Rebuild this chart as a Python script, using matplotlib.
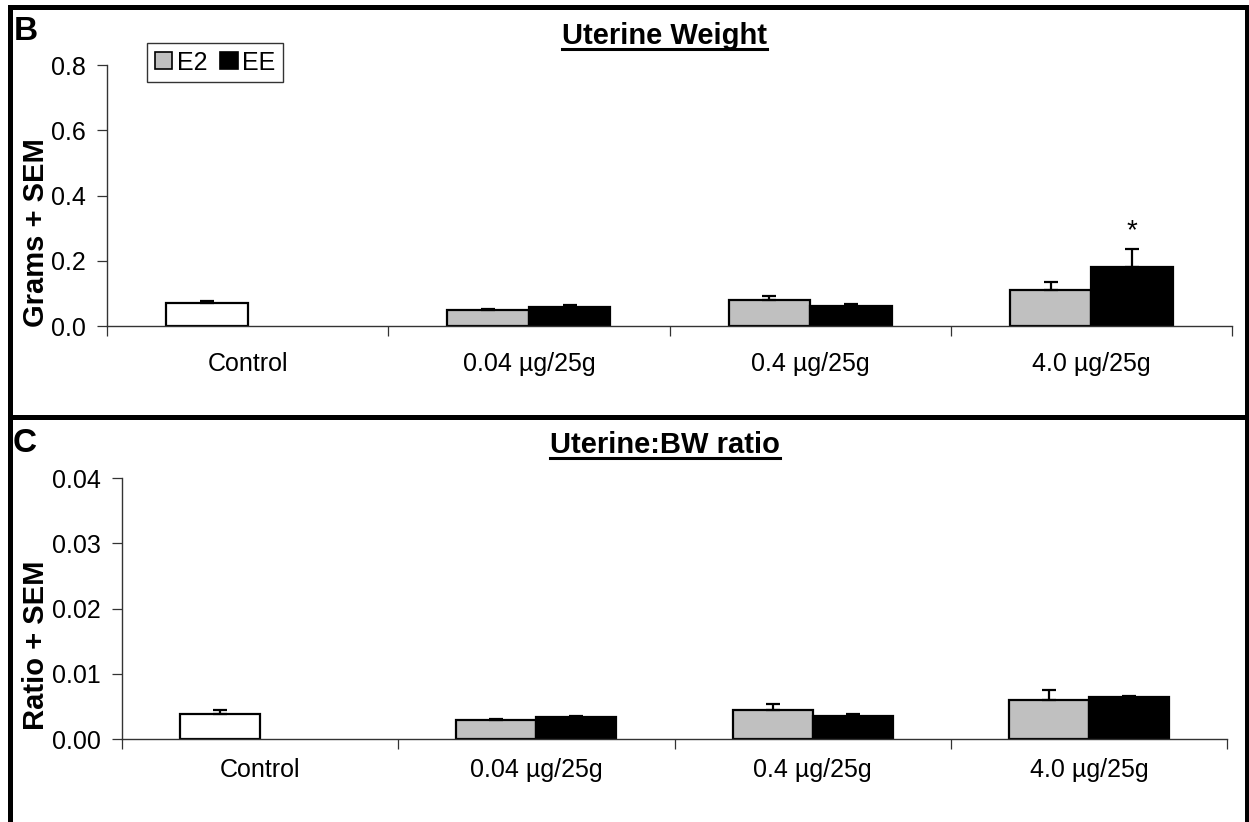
import matplotlib
matplotlib.use("Agg")
import matplotlib.pyplot as plt
from matplotlib.lines import Line2D
from matplotlib.patches import Rectangle, Patch
import numpy as np

plt.rcParams['font.family'] = ['Liberation Sans', 'DejaVu Sans']

# dose groups (Control has a single vehicle bar)
categories = ['Control', '0.04 µg/25g', '0.4 µg/25g', '4.0 µg/25g']

# uterine weight, grams
weight_control = 0.070
weight_control_sem = 0.008
weight_e2 = [0.049, 0.079, 0.110]
weight_e2_sem = [0.004, 0.014, 0.026]
weight_ee = [0.058, 0.062, 0.182]
weight_ee_sem = [0.005, 0.005, 0.053]

# uterine : body weight ratio
ratio_control = 0.0039
ratio_control_sem = 0.0005
ratio_e2 = [0.0029, 0.0044, 0.0060]
ratio_e2_sem = [0.0002, 0.0010, 0.0015]
ratio_ee = [0.0034, 0.0036, 0.0064]
ratio_ee_sem = [0.0002, 0.0002, 0.0002]

weight_ticks = [0.0, 0.2, 0.4, 0.6, 0.8]
weight_ticklabels = ['0.0', '0.2', '0.4', '0.6', '0.8']
ratio_ticks = [0.00, 0.01, 0.02, 0.03, 0.04]
ratio_ticklabels = ['0.00', '0.01', '0.02', '0.03', '0.04']

W, H = 1249, 822
BAR_W = 0.29
GREY = '#C0C0C0'
LABEL_SIZE = 18


def fig_box(left, top, right, bottom):
    """Pixel box -> figure fraction [x, y, w, h]."""
    return [left / W, 1 - bottom / H, (right - left) / W, (bottom - top) / H]


def draw_panel(ax, control, control_sem, e2, e2_sem, ee, ee_sem, ticks, ticklabels, xpad):
    x = np.arange(1, len(categories))
    err_kw = dict(ecolor='black', elinewidth=1.6, capsize=5, capthick=1.6)

    ax.bar(0 - BAR_W / 2, control, BAR_W, color='white', edgecolor='black', linewidth=1.6,
           yerr=[[0], [control_sem]], error_kw=err_kw, zorder=3)
    ax.bar(x - BAR_W / 2, e2, BAR_W, color=GREY, edgecolor='black', linewidth=1.6,
           yerr=[np.zeros(len(e2)), e2_sem], error_kw=err_kw, zorder=3)
    ax.bar(x + BAR_W / 2, ee, BAR_W, color='black', edgecolor='black', linewidth=1.6,
           yerr=[np.zeros(len(ee)), ee_sem], error_kw=err_kw, zorder=3)

    ax.set_xlim(-0.5, len(categories) - 0.5)
    ax.set_ylim(ticks[0], ticks[-1])
    ax.set_yticks(ticks)
    ax.set_yticklabels(ticklabels)

    # tick marks sit between groups, labels sit under group centres
    ax.set_xticks(np.arange(len(categories) + 1) - 0.5)
    ax.set_xticklabels([])
    ax.set_xticks(np.arange(len(categories)), minor=True)
    ax.set_xticklabels(categories, minor=True)
    ax.tick_params(axis='x', which='minor', length=0, pad=xpad, labelsize=LABEL_SIZE)
    ax.tick_params(axis='x', which='major', length=7, width=0.9, direction='out', color='#333333')
    ax.tick_params(axis='y', length=7, width=0.9, direction='out', color='#333333',
                   labelsize=LABEL_SIZE, pad=8)

    for side in ('top', 'right'):
        ax.spines[side].set_visible(False)
    for side in ('left', 'bottom'):
        ax.spines[side].set_color('#333333')
        ax.spines[side].set_linewidth(1.0)
        ax.spines[side].set_zorder(4)
    ax.patch.set_alpha(0)
    return ax


def underlined_title(fig, text, x, y):
    t = fig.text(x, y, text, ha='center', va='baseline', fontsize=21, fontweight='bold')
    fig.canvas.draw()
    bb = t.get_window_extent().transformed(fig.transFigure.inverted())
    uy = y - 5 / H
    fig.add_artist(Line2D([bb.x0, bb.x1], [uy, uy], color='black', lw=2.2,
                          transform=fig.transFigure))
    return t


fig = plt.figure(figsize=(W / 100, H / 100), dpi=100)

# framed panels
for top, bottom in ((7.5, 417), (417, 860)):
    fig.add_artist(Rectangle((9.5 / W, 1 - bottom / H), (1247 - 9.5) / W, (bottom - top) / H,
                             transform=fig.transFigure, fill=False, edgecolor='black', lw=3.6))

ax_b = fig.add_axes(fig_box(107, 65, 1232, 326))
draw_panel(ax_b, weight_control, weight_control_sem, weight_e2, weight_e2_sem,
           weight_ee, weight_ee_sem, weight_ticks, weight_ticklabels, xpad=19)

ax_c = fig.add_axes(fig_box(122, 478, 1227, 739))
draw_panel(ax_c, ratio_control, ratio_control_sem, ratio_e2, ratio_e2_sem,
           ratio_ee, ratio_ee_sem, ratio_ticks, ratio_ticklabels, xpad=14)

# significance marker over the high EE dose
ax_b.annotate('*', (3 + BAR_W / 2, weight_ee[2] + weight_ee_sem[2]), xytext=(0, 4),
              textcoords='offset points', ha='center', va='bottom', fontsize=20)

handles = [Patch(facecolor=GREY, edgecolor='black', lw=1.2, label='E2'),
           Patch(facecolor='black', edgecolor='black', lw=1.2, label='EE')]
leg = fig.legend(handles=handles, loc='upper left', bbox_to_anchor=(147 / W, 1 - 43 / H),
                 ncol=2, fontsize=LABEL_SIZE, frameon=True, fancybox=False, edgecolor='black',
                 handlelength=0.7, handleheight=0.7, handletextpad=0.2, columnspacing=0.5,
                 borderpad=0.3, borderaxespad=0)
leg.get_frame().set_linewidth(1.0)

fig.text(36 / W, 1 - 233 / H, 'Grams + SEM', rotation=90, ha='center', va='center',
         fontsize=21, fontweight='bold')
fig.text(36 / W, 1 - 645 / H, 'Ratio + SEM', rotation=90, ha='center', va='center',
         fontsize=21, fontweight='bold')

fig.text(14 / W, 1 - 40 / H, 'B', ha='left', va='baseline', fontsize=24, fontweight='bold')
fig.text(13 / W, 1 - 452 / H, 'C', ha='left', va='baseline', fontsize=24, fontweight='bold')

underlined_title(fig, 'Uterine Weight', 664 / W, 1 - 44 / H)
underlined_title(fig, 'Uterine:BW ratio', 665 / W, 1 - 453 / H)

fig.savefig('out.png', dpi=100)
